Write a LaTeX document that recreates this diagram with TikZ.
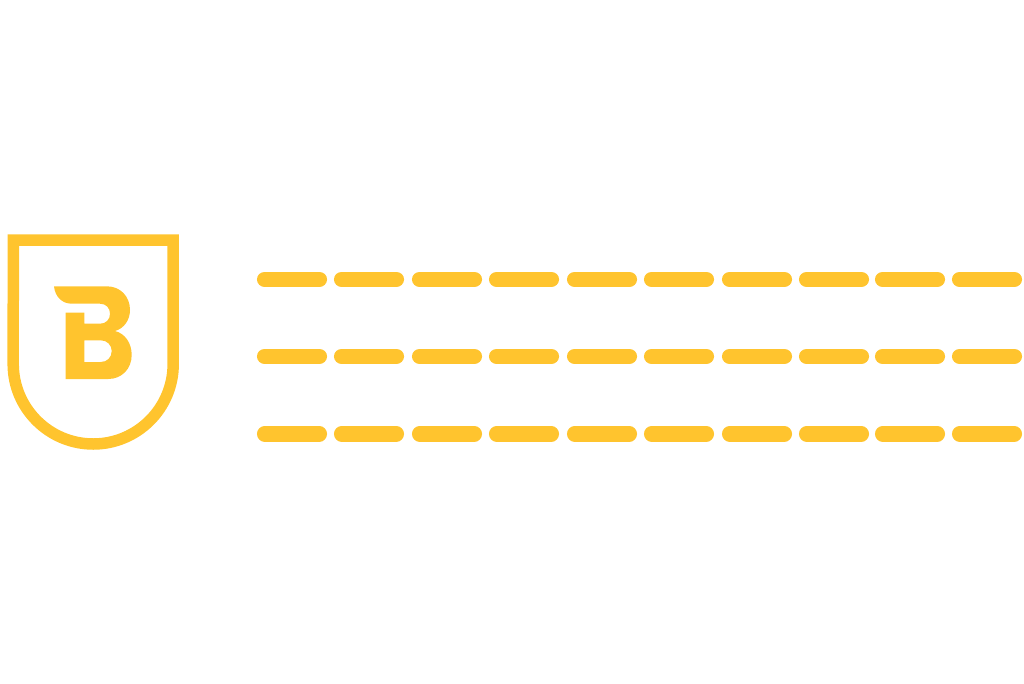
\documentclass[tikz,border=0pt]{standalone}
\usepackage{xcolor}
\definecolor{amarelo}{HTML}{FFC42E}
\tikzset{
    barra/.style={amarelo,line width=0.31cm,line cap=round},
    escudo/.style={amarelo,line width=0.23cm,miter limit=10}
}

\begin{document}
\begin{tikzpicture}[x=0.02cm,y=-0.02cm]
    \useasboundingbox (0,0) rectangle (1024,683);

    % Escudo
    \draw[escudo] (13.3,240) -- (173.2,240) -- (173.2,364)
        arc[start angle=0, end angle=180, x radius=80, y radius=80] -- cycle;

    % Letra B
    \fill[amarelo,even odd rule] (54,286.3) -- (106.7,286.3)
        .. controls (120.5,286.3) and (130,296.5) .. (130,310)
        .. controls (130,320) and (124,328.5) .. (115,331)
        .. controls (125,333.5) and (131.7,343) .. (131.7,355)
        .. controls (131.7,369) and (121.5,379) .. (108.3,379)
        -- (65.7,379) -- (65.7,312.7) -- (84.3,312.7) -- (84.3,323.7) -- (100,323.7)
        .. controls (106,323.7) and (110,319.5) .. (110,313.7)
        .. controls (110,308) and (106,303.7) .. (100,303.7)
        -- (71.7,303.7)
        .. controls (62,303.7) and (55,296.5) .. (54,286.3) -- cycle
        (84.3,340.3) -- (100.7,340.3)
        .. controls (107,340.3) and (111.7,345) .. (111.7,351)
        .. controls (111.7,357.5) and (107,362) .. (100.7,362)
        -- (84.3,362) -- cycle;

    % Linhas de tracos
    \foreach \y in {279.3,356.3,433.8} {
        \foreach \xa/\xb in {257/327,334/404,412/482,489/559,567/637,644/714,722/792,799/869,875/945,952/1022} {
            \draw[barra] (\xa+7.7,\y) -- (\xb-7.7,\y);
        }
    }
\end{tikzpicture}
\end{document}
